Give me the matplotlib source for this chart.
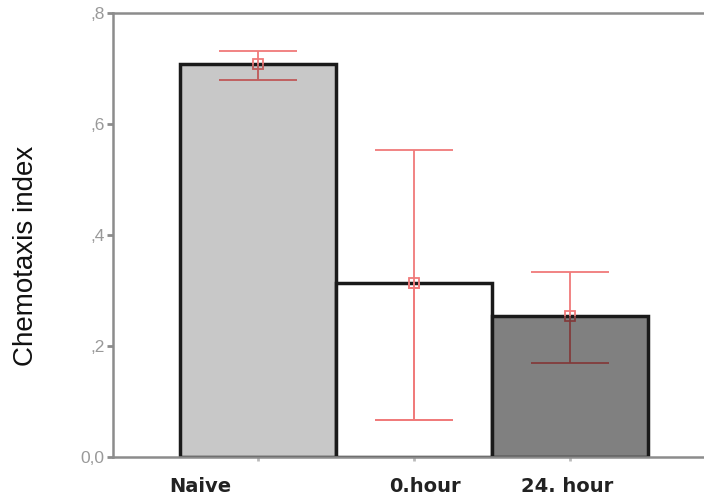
import numpy as np
import matplotlib.pyplot as plt
from matplotlib.colors import to_rgb

plt.rcParams['font.family'] = ['Liberation Sans', 'DejaVu Sans']

groups = ['Naive', '0.hour', '24. hour']
means = [0.708, 0.313, 0.254]
upper = [0.731, 0.553, 0.333]
lower = [0.679, 0.067, 0.169]
bar_colors = ['#c8c8c8', '#ffffff', '#808080']
ticks = [0.0, 0.2, 0.4, 0.6, 0.8]
tick_labels = ['0,0', ',2', ',4', ',6', ',8']
label_shift = [-0.37, 0.07, -0.02]  # x labels are not centred under the bars

err_col = '#f07a7a'
axis_col = '#8c8c8c'

x = np.arange(len(groups))
err = [np.array(means) - np.array(lower), np.array(upper) - np.array(means)]

fig = plt.figure(figsize=(7.04, 4.97), dpi=100)
ax = fig.add_axes([0.1605, 0.0805, 0.8395, 0.8935])

bars = ax.bar(x, means, width=1.0, color=bar_colors, edgecolor='#1a1a1a', linewidth=2.5, zorder=2)

ax.errorbar(x, means, yerr=err, fmt='s', ms=7, mfc='none', mec=err_col, mew=1.3,
            ecolor=err_col, elinewidth=1.3, capsize=28.4, capthick=1.3, zorder=3)

# part of the error bar lying over a bar looks multiplied with the bar colour
for i, b in enumerate(bars):
    c = tuple(a * m for a, m in zip(to_rgb(err_col), to_rgb(bar_colors[i])))
    ln = ax.errorbar([x[i]], [means[i]], yerr=[[err[0][i]], [err[1][i]]], fmt='s', ms=7,
                     mfc='none', mec=c, mew=1.3, ecolor=c, elinewidth=1.3,
                     capsize=28.4, capthick=1.3, zorder=4)
    arts = [ln.lines[0]] + list(ln.lines[1]) + list(ln.lines[2])
    for art in arts:
        art.set_clip_path(b)

ax.set_xlim(-0.93, 2.86)
ax.set_ylim(0, 0.8)
ax.set_yticks(ticks)
ax.set_yticklabels(tick_labels, color='#999999', fontsize=12.5)
ax.set_xticks(x)
ax.set_xticklabels([])
ax.tick_params(axis='y', length=4, width=2, color=axis_col, pad=2)
ax.tick_params(axis='x', length=3, width=2, color='#bbbbbb')

for s in ['left', 'bottom', 'top']:
    ax.spines[s].set_color(axis_col)
    ax.spines[s].set_linewidth(1.8)
ax.spines['right'].set_visible(False)

for i, g in enumerate(groups):
    ax.text(x[i] + label_shift[i], -0.066, g, ha='center', va='center',
            fontsize=14, fontweight='bold', color='#222222', family='DejaVu Sans',
            transform=ax.get_xaxis_transform())

ax.set_ylabel('Chemotaxis index', fontsize=20, color='#111111')
ax.yaxis.set_label_coords(-0.125, 0.453)

fig.savefig('out.png', dpi=100)
